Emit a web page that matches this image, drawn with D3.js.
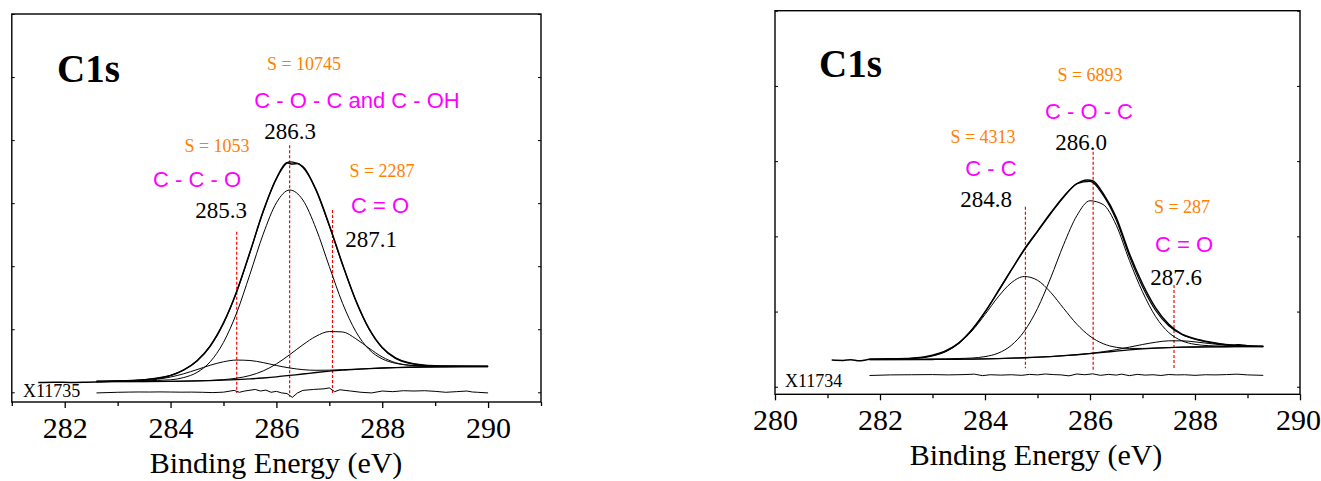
<!DOCTYPE html>
<html><head><meta charset="utf-8">
<script src="https://cdn.jsdelivr.net/npm/d3@7"></script>
<style>body{margin:0;background:#fff} svg{display:block}</style>
</head><body><svg id="c" width="1321" height="481"></svg>
<script>
// ---------------- LEFT PANEL DATA (C1s, X11735) ----------------
const eVL = [282.6,283.0,283.5,284.0,284.25,284.5,284.75,285.0,285.25,285.5,285.75,286.0,286.25,286.5,286.75,287.0,287.25,287.5,287.75,288.0,288.25,288.5,289.0,289.5,290.0];
const baseL = [.168,.169,.170,.173,.176,.180,.185,.192,.201,.212,.227,.245,.268,.290,.314,.335,.352,.365,.376,.385,.392,.397,.403,.406,.407];
const mainL = [.176,.179,.183,.198,.234,.315,.485,.792,1.261,1.872,2.507,3.005,3.208,3.050,2.594,1.995,1.412,.965,.680,.530,.460,.430,.415,.414,.413];
const ccoL  = [.169,.171,.186,.242,.294,.360,.429,.484,.511,.504,.471,.425,.386,.359,.349,.351,.359,.367,.376,.385,.392,.397,.403,.406,.407];
const coL   = [.168,.169,.170,.173,.176,.181,.188,.201,.224,.266,.339,.450,.596,.753,.889,.963,.957,.850,.700,.560,.470,.430,.405,.406,.407];
const envL  = [.177,.181,.199,.267,.352,.496,.732,1.093,1.594,2.218,2.863,3.390,3.654,3.582,3.204,2.639,2.024,1.452,1.004,.705,.538,.463,.417,.414,.413];
const rawEvL = [281.5,281.8,282.1,282.4,282.6,283.0,283.5,284.0,284.25,284.5,284.75,285.0,285.25,285.5,285.75,286.0,286.2,286.3,286.4,286.5,286.75,287.0,287.25,287.5,287.75,288.0,288.25,288.5,289.0,289.5,290.0];
const rawL  = [.155,.160,.155,.160,.165,.180,.200,.265,.355,.500,.735,1.100,1.600,2.220,2.870,3.390,3.640,3.620,3.630,3.570,3.210,2.650,2.030,1.460,1.010,.710,.545,.468,.420,.414,.413];
const resEvL = [282.6,282.8,283.0,283.2,283.4,283.6,283.8,284.0,284.2,284.4,284.6,284.8,285.0,285.2,285.3,285.4,285.6,285.7,285.8,285.9,286.0,286.1,286.2,286.3,286.4,286.5,286.7,286.9,287.0,287.1,287.2,287.4,287.6,287.8,288.0,288.2,288.4,288.6,288.8,289.0,289.2,289.4,289.6,289.7,289.8,290.0];
const resL  = [-.01,-.005,0,.003,.005,.004,.006,.004,.002,.003,0,-.005,.002,.03,0,.02,.045,.02,.035,0,.015,-.01,-.02,-.08,-.01,.03,.045,.055,.07,.01,.04,.02,0,-.01,.02,.01,.025,.02,.025,.015,0,.01,.02,.005,0,-.01];
const peakEvL  = [285.25,286.25,287.06];
const peakTopL = [2.547,3.92,2.89];
const peakBotL = [-0.011,-0.07,-0.011];
const ticksL = [282,284,286,288,290];
const minorL = [281,283,285,287,289,291];

// ---------------- RIGHT PANEL DATA (C1s, X11734) ----------------
const eVR = [281.8,282.2,282.6,283.0,283.25,283.5,283.75,284.0,284.25,284.5,284.75,285.0,285.25,285.5,285.75,286.0,286.25,286.5,286.75,287.0,287.25,287.5,287.75,288.0,288.25,288.5,288.75,289.0,289.3];
const baseR = [.360,.361,.362,.363,.364,.366,.368,.371,.375,.380,.386,.393,.402,.413,.426,.441,.457,.474,.490,.503,.513,.521,.526,.529,.531,.532,.533,.533,.533];
const ccR   = [.364,.367,.374,.409,.466,.574,.741,.961,1.195,1.382,1.466,1.416,1.256,1.040,.831,.672,.573,.525,.510,.510,.515,.521,.526,.529,.531,.532,.533,.533,.533];
const mainR = [.363,.365,.367,.370,.372,.376,.382,.401,.447,.550,.740,1.041,1.446,1.894,2.276,2.473,2.423,2.148,1.680,1.263,.933,.721,.611,.564,.547,.542,.540,.538,.537];
const coR   = [.360,.361,.362,.363,.364,.366,.368,.371,.375,.380,.386,.393,.402,.413,.427,.444,.466,.493,.527,.562,.592,.611,.611,.597,.577,.558,.545,.538,.534];
const envR  = [.367,.371,.379,.416,.474,.584,.755,.991,1.267,1.552,1.820,2.064,2.300,2.521,2.700,2.730,2.548,2.218,1.737,1.329,1.014,.811,.696,.632,.593,.568,.552,.543,.538];
const rawEvR = [281.08,281.3,281.45,281.6,281.75,281.8,282.2,282.6,283.0,283.25,283.5,283.75,284.0,284.25,284.5,284.75,285.0,285.25,285.5,285.75,285.95,286.05,286.25,286.5,286.75,287.0,287.25,287.5,287.75,288.0,288.25,288.5,288.75,288.85,289.0,289.3];
const rawR  = [.355,.350,.360,.345,.360,.365,.372,.380,.420,.476,.580,.760,.995,1.270,1.550,1.830,2.070,2.310,2.530,2.700,2.750,2.740,2.570,2.250,1.770,1.370,1.050,.830,.700,.640,.600,.570,.555,.560,.545,.538];
const resEvR = [281.8,282.2,282.6,283.0,283.3,283.6,283.8,283.95,284.1,284.3,284.5,284.7,284.85,285.0,285.15,285.3,285.45,285.6,285.75,285.9,286.05,286.2,286.35,286.5,286.6,286.75,286.9,287.05,287.2,287.35,287.5,287.65,287.8,288.0,288.2,288.4,288.6,288.8,289.0,289.3];
const resR  = [.150,.158,.160,.162,.158,.162,.168,.148,.160,.155,.160,.152,.165,.158,.170,.162,.158,.145,.170,.160,.172,.152,.165,.155,.168,.148,.165,.155,.160,.150,.163,.158,.160,.152,.160,.158,.162,.168,.158,.152];
const peakEvR  = [284.77,286.06,287.6];
const peakTopR = [2.394,3.125,1.352];
const peakBotR = [0.245,0.222,0.222];
const ticksR = [280,282,284,286,288,290];
const minorR = [281,283,285,287,289];

// ---------------- LABELS ----------------
const sLabelsL = ["S = 1053","S = 10745","S = 2287"];
const bondLabelsL = ["C - C - O","C - O - C and C - OH","C = O"];
const posLabelsL = ["285.3","286.3","287.1"];
const sLabelsR = ["S = 4313","S = 6893","S = 287"];
const bondLabelsR = ["C - C","C - O - C","C = O"];
const posLabelsR = ["284.8","286.0","287.6"];

const SERIF = "'Liberation Serif','Times New Roman',Times,serif";
const SANS = "'Liberation Sans',Arial,Helvetica,sans-serif";
const ORANGE = "#FF8000", MAGENTA = "#FF00FF";

const svg = d3.select("#c");

function panel(cfg){
  const x = d3.scaleLinear().domain(cfg.xd).range(cfg.xr);
  const y = d3.scaleLinear().domain(cfg.yd).range(cfg.yr);
  const g = svg.append("g");
  const id = "clip"+cfg.id;
  svg.append("defs").append("clipPath").attr("id",id).append("rect")
    .attr("x",cfg.xr[0]).attr("y",cfg.yr[1]).attr("width",cfg.xr[1]-cfg.xr[0]).attr("height",cfg.yr[0]-cfg.yr[1]);

  const line = (xs,ys,curve) => d3.line().x((d,i)=>x(xs[i])).y((d,i)=>y(ys[i])).curve(curve||d3.curveMonotoneX)(ys);
  const plot = g.append("g").attr("clip-path",`url(#${id})`);

  cfg.peakEv.forEach((e,i)=>{
    plot.append("line").attr("x1",x(e)).attr("x2",x(e)).attr("y1",y(cfg.peakTop[i])).attr("y2",y(cfg.peakBot[i]))
      .attr("stroke","#FF0000").attr("stroke-width",1.2).attr("stroke-dasharray","3,2");
  });

  const curves = [
    [cfg.base, 1.3],[cfg.comps[0],1.0],[cfg.comps[1],1.0],[cfg.comps[2],1.0],[cfg.env,1.2]
  ];
  curves.forEach(([ys,w])=>{
    plot.append("path").attr("d",line(cfg.eV,ys)).attr("fill","none").attr("stroke","#000").attr("stroke-width",w);
  });
  plot.append("path").attr("d",line(cfg.rawEv,cfg.raw)).attr("fill","none").attr("stroke","#000").attr("stroke-width",1.5);
  plot.append("path").attr("d",line(cfg.resEv,cfg.res,d3.curveLinear)).attr("fill","none").attr("stroke","#000").attr("stroke-width",1);

  g.append("rect").attr("x",cfg.xr[0]).attr("y",cfg.yr[1]).attr("width",cfg.xr[1]-cfg.xr[0]).attr("height",cfg.yr[0]-cfg.yr[1])
    .attr("fill","none").attr("stroke","#000").attr("stroke-width",1.4);

  const ax = g.append("g").attr("transform",`translate(0,${cfg.yr[0]})`)
    .call(d3.axisBottom(x).tickValues(cfg.ticks).tickSize(6).tickPadding(4).tickFormat(d3.format("d")));
  ax.attr("font-family",SERIF);
  ax.select(".domain").remove();
  ax.selectAll("line").attr("stroke-width",1.3);
  ax.selectAll("text").attr("font-family",SERIF).attr("font-size",30).attr("fill","#000").attr("dy",0).attr("y",cfg.tickLabelDy)
    .attr("dx",(d)=> d===cfg.edgeTick ? -2 : 0);
  const axm = g.append("g").attr("transform",`translate(0,${cfg.yr[0]})`)
    .call(d3.axisBottom(x).tickValues(cfg.minor).tickSize(4).tickFormat(""));
  axm.select(".domain").remove();
  axm.selectAll("line").attr("stroke-width",1.3);

  const yt = d3.range(cfg.yTicks+1);
  const al = g.append("g").attr("transform",`translate(${cfg.xr[0]},0)`).call(d3.axisLeft(y).tickValues(yt).tickSize(-3).tickFormat(""));
  al.select(".domain").remove();
  const ar = g.append("g").attr("transform",`translate(${cfg.xr[1]},0)`).call(d3.axisRight(y).tickValues(yt).tickSize(-3).tickFormat(""));
  ar.select(".domain").remove();

  g.append("text").attr("x",cfg.titleX).attr("y",cfg.titleY).attr("text-anchor","middle")
    .attr("font-family",SERIF).attr("font-size",30).text("Binding Energy (eV)");

  g.append("text").attr("x",cfg.c1s[0]).attr("y",cfg.c1s[1]).attr("font-family",SERIF).attr("font-weight","bold")
    .attr("font-size",39).text("C1s");
  g.append("text").attr("x",cfg.idPos[0]).attr("y",cfg.idPos[1]).attr("font-family",SERIF).attr("font-size",18).text(cfg.idText);

  cfg.ann.forEach((a,i)=>{
    g.append("text").attr("x",a.s[0]).attr("y",a.s[1]).attr("text-anchor","middle").attr("font-family",SERIF)
      .attr("font-size",18).attr("fill",ORANGE).text(cfg.sLabels[i]);
    g.append("text").attr("x",a.b[0]).attr("y",a.b[1]).attr("text-anchor","middle").attr("font-family",SANS)
      .attr("font-size",22).attr("fill",MAGENTA).text(cfg.bondLabels[i]);
    g.append("text").attr("x",a.p[0]).attr("y",a.p[1]).attr("text-anchor","middle").attr("font-family",SERIF)
      .attr("font-size",23).attr("fill","#000").text(cfg.posLabels[i]);
  });
}

panel({
  id:"L", xd:[281,291], xr:[11.8,541], yd:[-0.154,6], yr:[402,14], yTicks:6,
  eV:eVL, base:baseL, comps:[ccoL,mainL,coL], env:envL, rawEv:rawEvL, raw:rawL, resEv:resEvL, res:resL,
  peakEv:peakEvL, peakTop:peakTopL, peakBot:peakBotL, ticks:ticksL, minor:minorL, tickLabelDy:36, edgeTick:null,
  titleX:276, titleY:473, c1s:[57,82], idPos:[23,397], idText:"X11735",
  sLabels:sLabelsL, bondLabels:bondLabelsL, posLabels:posLabelsL,
  ann:[{s:[217,152],b:[197,187],p:[221,218]},{s:[304,70],b:[357,108],p:[290,139]},{s:[382,177],b:[380,213],p:[371,247]}]
});
panel({
  id:"R", xd:[280,290], xr:[775,1300], yd:[-0.1,5], yr:[394.3,10.7], yTicks:5,
  eV:eVR, base:baseR, comps:[ccR,mainR,coR], env:envR, rawEv:rawEvR, raw:rawR, resEv:resEvR, res:resR,
  peakEv:peakEvR, peakTop:peakTopR, peakBot:peakBotR, ticks:ticksR, minor:minorR, tickLabelDy:36, edgeTick:290,
  titleX:1036, titleY:465, c1s:[819,77], idPos:[785,387], idText:"X11734",
  sLabels:sLabelsR, bondLabels:bondLabelsR, posLabels:posLabelsR,
  ann:[{s:[983,143],b:[991,176],p:[986,207]},{s:[1090,81],b:[1089,119],p:[1081,150]},{s:[1182,213],b:[1184,252],p:[1176,285]}]
});
</script></body></html>
